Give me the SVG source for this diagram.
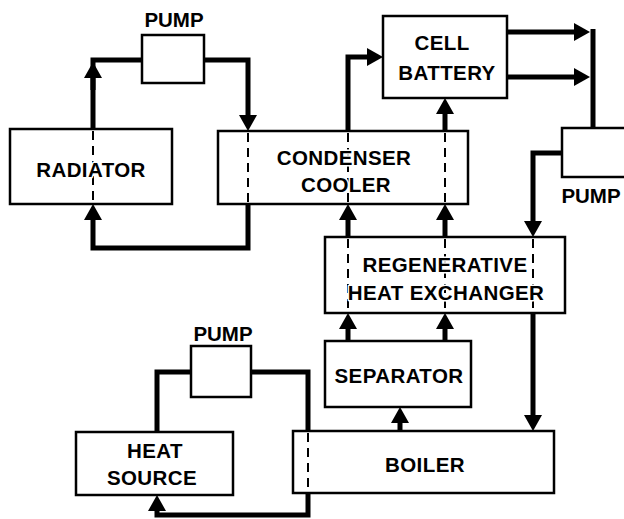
<svg xmlns="http://www.w3.org/2000/svg" width="624" height="519" viewBox="0 0 624 519">
<style>
.box{fill:none;stroke:#000;stroke-width:2.5}
.lbl{font-family:"Liberation Sans",Arial,sans-serif;font-weight:bold;font-size:20.5px;fill:#000;text-anchor:middle;letter-spacing:0.4px;stroke:#fff;stroke-width:3;paint-order:stroke;stroke-linejoin:round}
.c{fill:none;stroke:#000;stroke-width:5;stroke-linejoin:miter}
.d{fill:none;stroke:#000;stroke-width:2;stroke-dasharray:9 6}
</style>
<defs>
<marker id="arr" markerUnits="userSpaceOnUse" markerWidth="16" markerHeight="18" refX="7" refY="9" orient="auto" viewBox="0 0 16 18">
<path d="M0,0 L16,9 L0,18 Z" fill="#000"/>
</marker>
</defs>
<rect width="624" height="519" fill="#fff"/>
<g id="connectors">
<path class="c" d="M204,60 H248 V122" marker-end="url(#arr)"/>
<path class="c" d="M93,129 V60 H142"/>
<path class="c" d="M93,90 V71" marker-end="url(#arr)"/>
<path class="c" d="M248,204 V248 H93 V213" marker-end="url(#arr)"/>
<path class="c" d="M348,131 V57 H374" marker-end="url(#arr)"/>
<path class="c" d="M445,131 V107" marker-end="url(#arr)"/>
<path class="c" d="M507,32 H581" marker-end="url(#arr)"/>
<path class="c" d="M507,77 H581" marker-end="url(#arr)"/>
<path class="c" d="M593,29 V128"/>
<path class="c" d="M562,153 H533 V228" marker-end="url(#arr)"/>
<path class="c" d="M348,237 V213" marker-end="url(#arr)"/>
<path class="c" d="M445,237 V213" marker-end="url(#arr)"/>
<path class="c" d="M348,341 V322" marker-end="url(#arr)"/>
<path class="c" d="M445,341 V322" marker-end="url(#arr)"/>
<path class="c" d="M400,431 V416" marker-end="url(#arr)"/>
<path class="c" d="M533,313 V422" marker-end="url(#arr)"/>
<path class="c" d="M157,432 V372 H191"/>
<path class="c" d="M251,372 H308 V431"/>
<path class="c" d="M308,493 V515 H157 V504" marker-end="url(#arr)"/>
<path class="d" d="M93,131 V203"/>
<path class="d" d="M248,133 V203"/>
<path class="d" d="M348,133 V203"/>
<path class="d" d="M445,133 V203"/>
<path class="d" d="M348,239 V312"/>
<path class="d" d="M445,239 V312"/>
<path class="d" d="M533,239 V312"/>
<path class="d" d="M308,433 V492"/>
</g>
<g id="nodes">
<g id="pump1"><rect class="box" x="142" y="35" width="62" height="48"/><text class="lbl" x="174" y="27" style="letter-spacing:0">PUMP</text></g>
<g id="radiator"><rect class="box" x="10" y="129" width="162" height="75"/><text class="lbl" x="91" y="177">RADIATOR</text></g>
<g id="condenser"><rect class="box" x="218" y="131" width="250" height="73"/><text class="lbl" x="344" y="165">CONDENSER</text><text class="lbl" x="346" y="192">COOLER</text></g>
<g id="battery"><rect class="box" x="383" y="16" width="124" height="82"/><text class="lbl" x="442" y="50">CELL</text><text class="lbl" x="447" y="80">BATTERY</text></g>
<g id="pump2"><rect class="box" x="562" y="128" width="66" height="49"/><text class="lbl" x="591" y="203" style="letter-spacing:0">PUMP</text></g>
<g id="regen"><rect class="box" x="325" y="237" width="240" height="76"/><text class="lbl" x="445" y="272">REGENERATIVE</text><text class="lbl" x="446" y="300">HEAT EXCHANGER</text></g>
<g id="separator"><rect class="box" x="325" y="341" width="146" height="66"/><text class="lbl" x="399" y="383">SEPARATOR</text></g>
<g id="boiler"><rect class="box" x="293" y="431" width="261" height="62"/><text class="lbl" x="425" y="472">BOILER</text></g>
<g id="pump3"><rect class="box" x="191" y="346" width="60" height="51"/><text class="lbl" x="223" y="341" style="letter-spacing:0">PUMP</text></g>
<g id="heatsource"><rect class="box" x="76" y="432" width="157" height="63"/><text class="lbl" x="155" y="458">HEAT</text><text class="lbl" x="152" y="485">SOURCE</text></g>
</g>
</svg>
